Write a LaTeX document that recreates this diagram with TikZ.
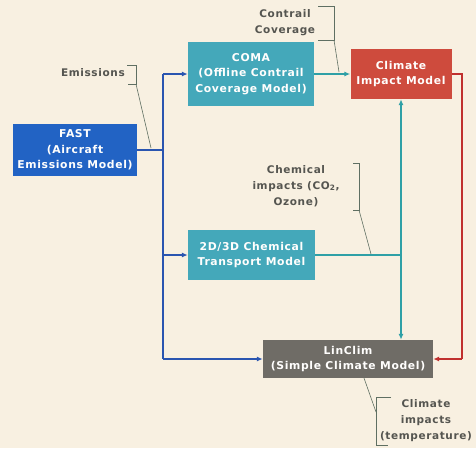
\documentclass[tikz,border=0pt]{standalone}
\usepackage{fontspec}
\setmainfont{DejaVu Sans}[LetterSpace=6]
\usetikzlibrary{arrows.meta}
\definecolor{bgc}{HTML}{F8F0E1}
\definecolor{fastc}{HTML}{2263C4}
\definecolor{tealc}{HTML}{44A8BA}
\definecolor{redc}{HTML}{CE4B3D}
\definecolor{grayc}{HTML}{6F6C66}
\definecolor{bluel}{HTML}{2A55B0}
\definecolor{teall}{HTML}{2FA0A6}
\definecolor{redl}{HTML}{C0302E}
\definecolor{labc}{HTML}{555550}
\definecolor{leadc}{HTML}{5F6F62}
\tikzset{
  box/.style={rectangle, inner sep=0pt, align=center, text=white!95!bgc,
    font=\fontsize{10.8}{15.5}\selectfont\bfseries},
  lab/.style={align=center, text=labc, inner sep=0pt,
    font=\fontsize{10.5}{16}\selectfont\bfseries},
  conn/.style={line width=1.4pt},
  tip/.style={-{Latex[length=6pt,width=5pt]}},
  lead/.style={leadc, line width=0.6pt},
}
\begin{document}
\begin{tikzpicture}[x=1pt,y=-1pt]
\fill[bgc] (0,0) rectangle (476,448);
\useasboundingbox (0,0) rectangle (476,448);
% boxes
\node[box, fill=fastc, minimum width=124, minimum height=52] (fast) at (75,150) {FAST\\(Aircraft\\Emissions Model)};
\node[box, fill=tealc, minimum width=126, minimum height=64] (coma) at (251,74) {COMA\\(Offline Contrail\\Coverage Model)};
\node[box, fill=redc, minimum width=101, minimum height=50] (clim) at (401,74) {Climate\\Impact Model};
\node[box, fill=tealc, minimum width=127, minimum height=50] (chem) at (251.5,255) {2D/3D Chemical\\Transport Model};
\node[box, fill=grayc, minimum width=170, minimum height=38] (lin) at (348,359) {LinClim\\(Simple Climate Model)};
% blue connectors
\coordinate (bj) at (163,150);
\coordinate (btop) at (163,74);
\coordinate (bmid) at (163,255);
\coordinate (bbot) at (163,359);
\draw[conn, bluel] (fast.east) -- (bj);
\draw[conn, bluel] (btop) -- (bbot);
\draw[conn, bluel, tip] (btop) -- (coma.west);
\draw[conn, bluel, tip] (bmid) -- (chem.west);
\draw[conn, bluel, tip] (bbot) -- (lin.west);
% teal connectors
\coordinate (tj) at (clim.south |- chem.east);
\draw[conn, teall, tip] (coma.east) -- (clim.west);
\draw[conn, teall] (chem.east) -- (tj);
\draw[conn, teall, tip] (tj) -- (clim.south);
\draw[conn, teall, tip] (tj) -- (tj |- lin.north);
% red connector
\coordinate (r1) at (462,74);
\coordinate (r2) at (462,359);
\draw[conn, redl] (clim.east) -- (r1) -- (r2);
\draw[conn, redl, tip] (r2) -- (lin.east);
% labels
\node[lab, anchor=east] (emi) at (125,73) {Emissions};
\coordinate (e1) at (127,65); \coordinate (e2) at (136,65);
\coordinate (e3) at (136,84); \coordinate (e4) at (128,84);
\draw[lead] (e1) -- (e2) -- (e3) -- (e4);
\coordinate (e5) at (151,148);
\draw[lead] (e3) -- (e5);
\node[lab] (cc) at (285,23) {Contrail\\Coverage};
\coordinate (c1) at (318,6); \coordinate (c2) at (334,6);
\coordinate (c3) at (334,40); \coordinate (c4) at (318,40);
\draw[lead] (c1) -- (c2) -- (c3) -- (c4);
\coordinate (c5) at (339,72);
\draw[lead] (c3) -- (c5);
\node[lab] (ci) at (296,186) {Chemical\\impacts (CO\textsubscript{2},\\Ozone)};
\coordinate (h1) at (353,163); \coordinate (h2) at (359,163);
\coordinate (h3) at (359,210); \coordinate (h4) at (353,210);
\draw[lead] (h1) -- (h2) -- (h3) -- (h4);
\coordinate (h5) at (371,254);
\draw[lead] (h3) -- (h5);
\node[lab] (cli) at (426,421) {Climate\\impacts\\(temperature)};
\coordinate (k1) at (391,397); \coordinate (k2) at (376,397);
\coordinate (k3) at (376,445); \coordinate (k4) at (388,445);
\draw[lead] (k1) -- (k2) -- (k3) -- (k4);
\coordinate (k5) at (364,378);
\coordinate (k6) at (376,412);
\draw[lead] (k5) -- (k6);
\end{tikzpicture}
\end{document}
